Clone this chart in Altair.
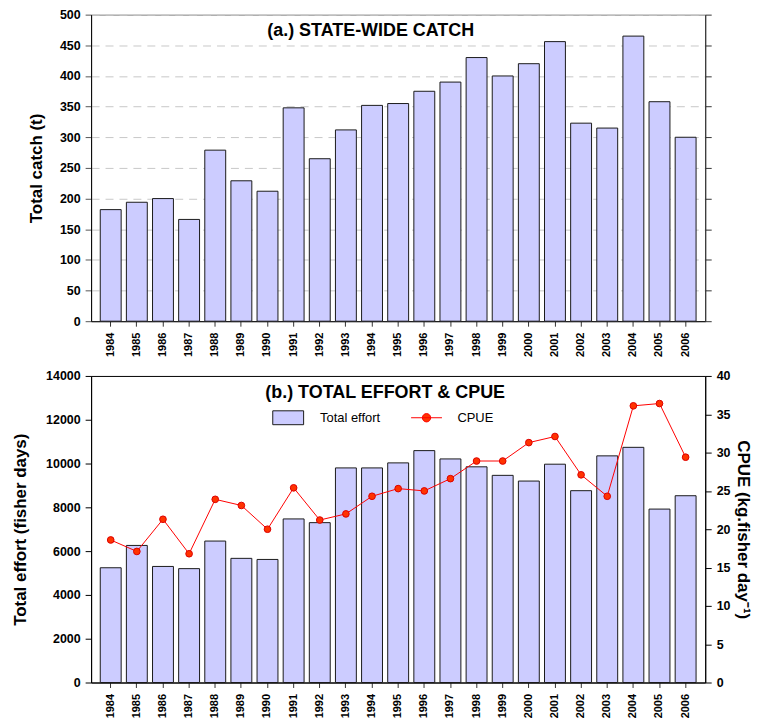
import altair as alt
import pandas as pd

FONT = "Liberation Sans"

years = [str(y) for y in range(1984, 2007)]
catch_t = [182, 194, 200, 166, 279, 229, 212, 348, 265, 312, 352, 355, 375, 390,
           430, 400, 420, 456, 323, 315, 465, 358, 300]
effort = [5240, 6260, 5300, 5200, 6460, 5670, 5620, 7470, 7300, 9800, 9800, 10030,
          10590, 10210, 9850, 9460, 9200, 9970, 8760, 10350, 10740, 7920, 8530]
cpue = [18.6, 17.1, 21.3, 16.8, 23.9, 23.1, 20.0, 25.4, 21.2, 22.0, 24.3, 25.3,
        25.0, 26.6, 28.9, 28.9, 31.3, 32.1, 27.1, 24.3, 36.1, 36.4, 29.4]
series_names = ["Total effort", "CPUE"]
panel_titles = ["(a.) STATE-WIDE CATCH", "(b.) TOTAL EFFORT & CPUE"]
catch_ticks = list(range(0, 501, 50))
effort_ticks = list(range(0, 14001, 2000))
cpue_ticks = list(range(0, 41, 5))

W, H = 617, 308

df = pd.DataFrame({"year": years, "catch": catch_t, "effort": effort, "cpue": cpue})
df["s_effort"] = series_names[0]
df["s_cpue"] = series_names[1]

xscale = alt.Scale(paddingInner=0.2, paddingOuter=0.35)
xaxis = alt.Axis(title=None, labelAngle=270, labelFontSize=11, labelFontWeight="bold",
                 labelPadding=6, tickSize=5, tickColor="#333", domainColor="#000",
                 labelColor="#000")
xenc = alt.X("year:N", sort=years, scale=xscale, axis=xaxis)

ybase = dict(labelFontSize=12.5, labelFontWeight="bold", labelColor="#000", tickSize=6,
             labelPadding=5, titleFontSize=17, titleFontWeight="bold",
             titleColor="#000", format="d", labelOverlap=False)

# ---------- top panel ----------
catch_scale = alt.Scale(domain=[0, 500], nice=False)
top_bars = alt.Chart(df).mark_bar(fill="#ccccff", stroke="#1a1a1a", strokeWidth=1).encode(
    x=xenc,
    y=alt.Y("catch:Q", scale=catch_scale,
            axis=alt.Axis(title="Total catch (t)", values=catch_ticks, grid=True,
                          gridColor="#c8c8c8", gridDash=[8, 6], gridWidth=1,
                          tickColor="#555", domainColor="#000", titlePadding=13.5, **ybase)),
)
top_right = alt.Chart(df).mark_bar(opacity=0).encode(
    x=xenc,
    y=alt.Y("catch:Q", scale=catch_scale,
            axis=alt.Axis(orient="right", title=None, labels=False, values=catch_ticks,
                          tickSize=6, tickColor="#333", domainColor="#222", grid=False)),
)
top_title = alt.Chart(pd.DataFrame({"t": [panel_titles[0]]})).mark_text(
    align="left", baseline="alphabetic", fontSize=18, fontWeight="bold", font=FONT, color="#000"
).encode(x=alt.value(177), y=alt.value(21), text="t:N")

top = alt.layer(top_bars, top_right, top_title).resolve_axis(y="independent").properties(
    width=W, height=H, view=alt.ViewBackground(stroke="#808080", strokeWidth=1)
)

# ---------- bottom panel ----------
bars = alt.Chart(df).mark_bar(stroke="#1a1a1a", strokeWidth=1).encode(
    x=xenc,
    y=alt.Y("effort:Q", scale=alt.Scale(domain=[0, 14000], nice=False),
            axis=alt.Axis(title="Total effort (fisher days)", values=effort_ticks, grid=False,
                          tickColor="#000", domainColor="#000", titlePadding=16.5, **ybase)),
    fill=alt.Fill("s_effort:N",
                  scale=alt.Scale(domain=[series_names[0]], range=["#ccccff"]),
                  legend=alt.Legend(title=None, orient="none", legendX=182, legendY=26,
                                    direction="horizontal", symbolType="M-1,-0.45H1V0.45H-1Z",
                                    symbolSize=961, symbolStrokeColor="#1a1a1a",
                                    symbolStrokeWidth=1, labelFontSize=13, labelFont=FONT,
                                    labelColor="#000", labelOffset=16, padding=0)),
)

cpue_scale = alt.Scale(domain=[0, 40], nice=False)
cpue_axis = alt.Axis(orient="right", title="CPUE (kg.fisher day\u207b\u00b9)",
                     values=cpue_ticks, grid=False, tickColor="#000", domainColor="#000",
                     titlePadding=4, **ybase)
line = alt.Chart(df).mark_line(strokeWidth=1).encode(
    x=xenc,
    y=alt.Y("cpue:Q", scale=cpue_scale, axis=cpue_axis),
    stroke=alt.Stroke("s_cpue:N", scale=alt.Scale(domain=[series_names[1]], range=["#ff0000"]),
                      legend=alt.Legend(title=None, orient="none", legendX=321, legendY=26,
                                        direction="horizontal",
                                        symbolType="M-1,0H1M0.27,0A0.27,0.27,0,1,1,-0.27,0A0.27,0.27,0,1,1,0.27,0Z",
                                        symbolSize=961, symbolFillColor="#ff3300",
                                        symbolStrokeWidth=1, labelFontSize=13, labelFont=FONT,
                                        labelColor="#000", labelOffset=15, padding=0)),
)
points = alt.Chart(df).mark_point(filled=True, fill="#ff3300", stroke="#dd0000",
                                  strokeWidth=1, size=45, opacity=1, shape="circle").encode(
    x=xenc,
    y=alt.Y("cpue:Q", scale=cpue_scale, axis=cpue_axis),
)
bot_title = alt.Chart(pd.DataFrame({"t": [panel_titles[1]]})).mark_text(
    align="left", baseline="alphabetic", fontSize=18, fontWeight="bold", font=FONT, color="#000"
).encode(x=alt.value(175), y=alt.value(22), text="t:N")

bottom = alt.layer(bars, alt.layer(line, points), bot_title).resolve_scale(
    y="independent").properties(
    width=W, height=H, view=alt.ViewBackground(stroke="#000", strokeWidth=1)
)

chart = alt.vconcat(top, bottom, spacing=12).resolve_legend(
    fill="independent", stroke="independent"
).properties(
    padding={"left": 2.5, "top": -2, "right": 0, "bottom": 0}
).configure(font=FONT).configure_axis(labelFont=FONT, titleFont=FONT)

chart.save("out.html", embed_options={"renderer": "svg", "actions": False})
